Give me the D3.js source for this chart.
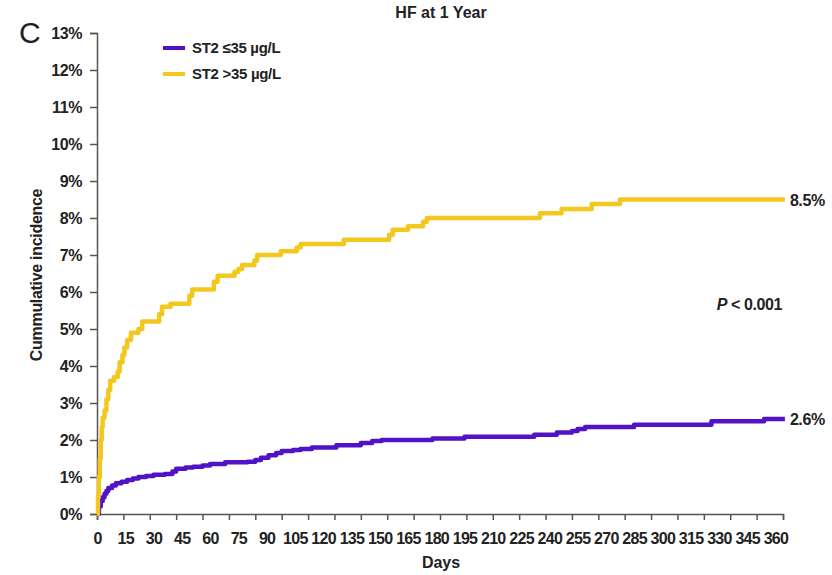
<!DOCTYPE html>
<html>
<head>
<meta charset="utf-8">
<script src="https://cdn.jsdelivr.net/npm/d3@7"></script>
<style>
  body { margin: 0; background: #fff; }
  svg text { font-family: "Liberation Sans", Arial, sans-serif; fill: #222; }
</style>
</head>
<body>
<div id="chart"></div>
<script>
// cumulative incidence (days, %)
const lowSt2 = [
  [0, 0], [1, 0.2], [2, 0.35], [3, 0.45], [4, 0.55], [5, 0.62], [6, 0.7], [8, 0.77],
  [10, 0.83], [13, 0.87], [16, 0.92], [19, 0.96], [22, 1.0], [26, 1.03], [30, 1.06],
  [36, 1.08], [40, 1.15], [42, 1.22], [47, 1.26], [51, 1.28], [56, 1.31], [60, 1.35],
  [68, 1.4], [80, 1.41], [84, 1.46], [87, 1.52], [91, 1.59], [95, 1.65], [98, 1.7],
  [104, 1.73], [108, 1.76], [114, 1.8], [127, 1.86], [140, 1.92], [146, 1.97],
  [151, 2.0], [178, 2.04], [195, 2.09], [232, 2.14], [244, 2.2], [252, 2.24],
  [255, 2.3], [259, 2.35], [285, 2.41], [326, 2.51], [354, 2.57], [365, 2.57]
];
const highSt2 = [
  [0, 0], [0.5, 0.5], [1, 1.0], [1.5, 1.5], [2, 2.0], [2.5, 2.35], [3, 2.6], [4, 2.8],
  [5, 3.1], [6, 3.35], [7, 3.6], [9, 3.7], [11, 3.85], [12, 4.1], [13.5, 4.3],
  [14.5, 4.5], [16, 4.7], [18, 4.9], [22, 5.0], [24, 5.2], [33, 5.4], [34.5, 5.6],
  [39, 5.68], [49, 5.9], [50.5, 6.07], [62, 6.28], [64, 6.44], [73, 6.55], [75, 6.62],
  [77, 6.73], [83.5, 6.85], [85, 7.0], [97.5, 7.1], [106, 7.2], [108, 7.3],
  [131, 7.41], [155, 7.55], [157, 7.68], [165, 7.78], [173, 7.9], [175, 8.0],
  [235, 8.13], [246.5, 8.24], [262.5, 8.38], [277.5, 8.5], [365, 8.5]
];

const series = [
  { name: "ST2 \u226435 \u00b5g/L", values: lowSt2, color: "#5212c6", endLabel: "2.6%" },
  { name: "ST2 >35 \u00b5g/L", values: highSt2, color: "#f2c81e", endLabel: "8.5%" }
];

const xLabelTicks = d3.range(0, 361, 15);   // labelled days
const xMarkTicks = d3.range(0, 365, 14);    // tick marks on the axis
const yTicks = d3.range(0, 14, 1);          // percent

const width = 832, height = 575;
const x = d3.scaleLinear().domain([0, 364]).range([97, 783]);
const y = d3.scaleLinear().domain([0, 13]).range([514, 33]);

const svg = d3.select("#chart").append("svg")
  .attr("width", width)
  .attr("height", height);

// panel letter + title
svg.append("text").attr("x", 19).attr("y", 43)
  .style("font-size", "30px").text("C");
svg.append("text").attr("x", 441).attr("y", 18)
  .attr("text-anchor", "middle")
  .style("font-size", "16px").style("font-weight", "bold")
  .text("HF at 1 Year");

// y axis
svg.append("g").attr("transform", "translate(97,0)")
  .call(d3.axisLeft(y).tickValues(yTicks).tickFormat(d => d + "%").tickSize(7).tickPadding(8))
  .selectAll("text")
  .style("font-size", "16px").style("font-weight", "bold").style("letter-spacing", "-0.4px")
  .attr("fill", "#222");

// x axis: tick marks every 14 days, labels every 15 days
svg.append("g").attr("transform", "translate(0,514)")
  .call(d3.axisBottom(x).tickValues(xMarkTicks).tickFormat("").tickSize(6));
svg.append("g").attr("transform", "translate(0,514)")
  .call(d3.axisBottom(x).tickValues(xLabelTicks).tickSize(0).tickPadding(19))
  .call(g => g.select(".domain").remove())
  .selectAll("text")
  .style("font-size", "16px").style("font-weight", "bold").style("letter-spacing", "-0.7px")
  .attr("fill", "#222");

svg.selectAll(".domain, .tick line").attr("stroke", "#555").attr("stroke-width", 1.5);

svg.append("text").attr("x", 441).attr("y", 568)
  .attr("text-anchor", "middle")
  .style("font-size", "16px").style("font-weight", "bold")
  .text("Days");

svg.append("text")
  .attr("transform", "translate(42,275) rotate(-90)")
  .attr("text-anchor", "middle")
  .style("font-size", "16px").style("font-weight", "bold").style("letter-spacing", "-0.3px")
  .text("Cummulative incidence");

// curves
const line = d3.line()
  .x(d => x(d[0]))
  .y(d => y(d[1]))
  .curve(d3.curveStepAfter);

svg.selectAll(".curve")
  .data(series)
  .enter()
  .append("path")
  .attr("class", "curve")
  .attr("d", d => line(d.values))
  .attr("fill", "none")
  .attr("stroke", d => d.color)
  .attr("stroke-width", 4.5)
  .attr("stroke-linejoin", "round");

// end labels
svg.selectAll(".end-label")
  .data(series)
  .enter()
  .append("text")
  .attr("class", "end-label")
  .attr("x", d => x(d.values[d.values.length - 1][0]) + 5)
  .attr("y", d => y(d.values[d.values.length - 1][1]) + 6)
  .style("font-size", "16px").style("font-weight", "bold").style("letter-spacing", "-0.4px")
  .text(d => d.endLabel);

// p value
const pText = svg.append("text").attr("x", 782).attr("y", 310)
  .attr("text-anchor", "end")
  .style("font-size", "16px").style("font-weight", "bold").style("letter-spacing", "-0.4px");
pText.append("tspan").style("font-style", "italic").text("P");
pText.append("tspan").text(" < 0.001");

// legend
const legend = svg.selectAll(".legend")
  .data(series)
  .enter()
  .append("g")
  .attr("class", "legend")
  .attr("transform", (d, i) => `translate(163,${48 + i * 26})`);
legend.append("line")
  .attr("x1", 0).attr("x2", 22)
  .attr("stroke", d => d.color).attr("stroke-width", 4);
legend.append("text")
  .attr("x", 29).attr("y", 5)
  .style("font-size", "15px").style("font-weight", "bold").style("letter-spacing", "-0.3px")
  .text(d => d.name);
</script>
</body>
</html>
